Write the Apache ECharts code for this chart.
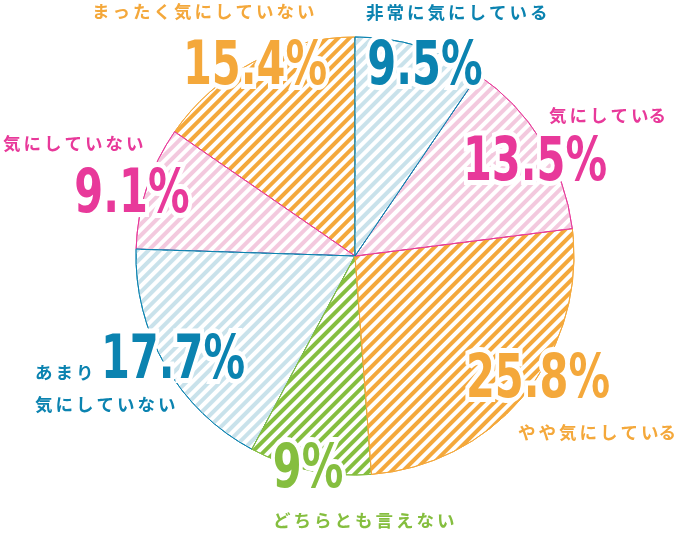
<!DOCTYPE html>
<html>
<head>
<meta charset="utf-8">
<script src="https://cdn.jsdelivr.net/npm/echarts@6/dist/echarts.min.js"></script>
<style>
html,body{margin:0;padding:0;background:#fff;}
#chart{width:683px;height:534px;}
</style>
</head>
<body>
<div id="chart"></div>
<script>
// ---- data ----
const categories = ['非常に気にしている','気にしている','やや気にしている','どちらとも言えない','あまり気にしていない','気にしていない','まったく気にしていない'];
const values = [9.5, 13.5, 25.8, 9, 17.7, 9.1, 15.4];
const valueLabels = ['9.5%','13.5%','25.8%','9%','17.7%','9.1%','15.4%'];

// ---- styles ----
const mainColors   = ['#0b83b0','#e8399a','#f4a83b','#85be3f','#0b83b0','#e8399a','#f4a83b'];
const stripeColors = ['#c9e2eb','#f3c9de','#f4a83b','#85be3f','#c9e2eb','#f3c9de','#f4a83b'];
const valuePos = [[425,68],[535,164],[538,381],[308,471],[173,362],[132,196],[255,68]];
const namePos  = [[366,12,'left'],[666,115,'right'],[676,432,'right'],[273,520,'left'],[35,388,'left'],[3,143,'left'],[92,11,'left']];
const nameBreak = {4: 3};
const CHAR_W = 20.5;
const NUM_FONT = '"DejaVu Sans Condensed",sans-serif';
const JP_FONT = '"Noto Sans CJK JP",sans-serif';

function spaced(str){
  const chars = Array.from(str);
  return chars.map((c,i)=> (i < chars.length-1 ? '{s|'+c+'}' : '{e|'+c+'}')).join('');
}
function nameText(i){
  const n = categories[i];
  if (nameBreak[i] != null) {
    return spaced(n.slice(0, nameBreak[i])) + '\n' + spaced(n.slice(nameBreak[i]));
  }
  return spaced(n);
}

// slices drawn in reverse order (counter-clockwise) so each earlier slice's border lies on top
const sliceData = values.map((v,i)=>({
  name: categories[i],
  value: v,
  itemStyle: {
    color: '#ffffff',
    borderColor: mainColors[i],
    borderWidth: 1,
    decal: {
      symbol: 'rect',
      symbolSize: 1,
      dashArrayX: [1, 0],
      dashArrayY: [3.4, 3.1],
      rotation: -Math.PI/4,
      color: stripeColors[i]
    }
  }
})).reverse();

const nameData = values.map((v,i)=>{
  const st = {fontSize:17.5, fontWeight:'bold', fontFamily:JP_FONT, color:mainColors[i], lineHeight:32};
  return {
    name: categories[i],
    value: v,
    itemStyle: {color:'rgba(0,0,0,0)', borderWidth:0},
    label: {
      formatter: nameText(i),
      color: mainColors[i],
      rich: {
        s: Object.assign({width: CHAR_W}, st),
        e: Object.assign({}, st)
      }
    }
  };
});

const valueGraphics = valueLabels.map((t,i)=>({
  type: 'text',
  x: valuePos[i][0],
  y: valuePos[i][1],
  scaleX: 0.77,
  z: 100,
  silent: true,
  style: {
    text: t,
    fill: mainColors[i],
    stroke: '#ffffff',
    lineWidth: 10,
    fontFamily: NUM_FONT,
    fontWeight: 'bold',
    fontSize: 60,
    align: 'center',
    verticalAlign: 'middle',
    textAlign: 'center',
    textVerticalAlign: 'middle'
  }
}));

const chart = echarts.init(document.getElementById('chart'), null, {renderer:'canvas'});
chart.setOption({
  animation: false,
  backgroundColor: '#ffffff',
  graphic: valueGraphics,
  series: [
    {
      type: 'pie',
      center: [355, 256],
      radius: 219,
      startAngle: 90,
      clockwise: false,
      silent: true,
      data: sliceData,
      label: {show: false},
      labelLine: {show:false}
    },
    {
      type: 'pie',
      center: [355, 256],
      radius: 219,
      startAngle: 90,
      clockwise: true,
      silent: true,
      z: 3,
      data: nameData,
      label: {
        show: true,
        position: 'inside'
      },
      labelLine: {show:false},
      labelLayout: function(p){
        const pos = namePos[p.dataIndex];
        return {x: pos[0], y: pos[1], align: pos[2], verticalAlign:'middle', hideOverlap:false};
      }
    }
  ]
});
</script>
</body>
</html>
